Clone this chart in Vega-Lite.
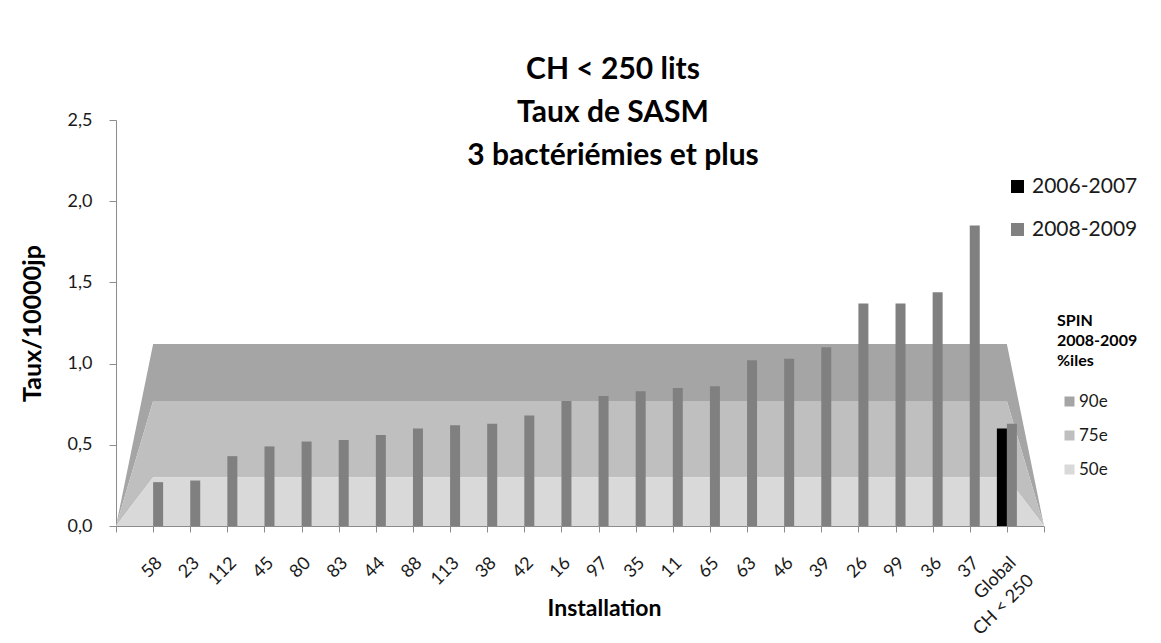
{
  "$schema": "https://vega.github.io/schema/vega-lite/v6.json",
  "autosize": {"type": "none"},
  "width": 928,
  "height": 406,
  "padding": {"left": 116, "top": 120, "right": 117, "bottom": 117},
  "background": "white",
  "config": {
    "font": "Lato",
    "view": {"stroke": null},
    "axis": {"grid": false, "domainColor": "#8c8c8c", "tickColor": "#8c8c8c", "labelColor": "#1a1a1a", "titleColor": "#000000", "labelFont": "Lato", "titleFont": "Lato"},
    "legend": {"labelFont": "Lato", "titleFont": "Lato", "labelColor": "#1a1a1a", "titleColor": "#000000"}
  },
  "title": {
    "text": ["CH < 250 lits", "Taux de SASM", "3 bactériémies et plus"],
    "font": "Lato",
    "fontSize": 30,
    "fontWeight": "bold",
    "lineHeight": 43,
    "color": "#000000",
    "anchor": "middle",
    "frame": "group",
    "dx": 33,
    "offset": -60
  },
  "datasets": {
    "bands": [
      {"cat": "s", "p50": 0, "p75": 0, "p90": 0},
      {"cat": "58", "p50": 0.3, "p75": 0.77, "p90": 1.12},
      {"cat": "23", "p50": 0.3, "p75": 0.77, "p90": 1.12},
      {"cat": "112", "p50": 0.3, "p75": 0.77, "p90": 1.12},
      {"cat": "45", "p50": 0.3, "p75": 0.77, "p90": 1.12},
      {"cat": "80", "p50": 0.3, "p75": 0.77, "p90": 1.12},
      {"cat": "83", "p50": 0.3, "p75": 0.77, "p90": 1.12},
      {"cat": "44", "p50": 0.3, "p75": 0.77, "p90": 1.12},
      {"cat": "88", "p50": 0.3, "p75": 0.77, "p90": 1.12},
      {"cat": "113", "p50": 0.3, "p75": 0.77, "p90": 1.12},
      {"cat": "38", "p50": 0.3, "p75": 0.77, "p90": 1.12},
      {"cat": "42", "p50": 0.3, "p75": 0.77, "p90": 1.12},
      {"cat": "16", "p50": 0.3, "p75": 0.77, "p90": 1.12},
      {"cat": "97", "p50": 0.3, "p75": 0.77, "p90": 1.12},
      {"cat": "35", "p50": 0.3, "p75": 0.77, "p90": 1.12},
      {"cat": "11", "p50": 0.3, "p75": 0.77, "p90": 1.12},
      {"cat": "65", "p50": 0.3, "p75": 0.77, "p90": 1.12},
      {"cat": "63", "p50": 0.3, "p75": 0.77, "p90": 1.12},
      {"cat": "46", "p50": 0.3, "p75": 0.77, "p90": 1.12},
      {"cat": "39", "p50": 0.3, "p75": 0.77, "p90": 1.12},
      {"cat": "26", "p50": 0.3, "p75": 0.77, "p90": 1.12},
      {"cat": "99", "p50": 0.3, "p75": 0.77, "p90": 1.12},
      {"cat": "36", "p50": 0.3, "p75": 0.77, "p90": 1.12},
      {"cat": "37", "p50": 0.3, "p75": 0.77, "p90": 1.12},
      {"cat": "Global", "p50": 0.3, "p75": 0.77, "p90": 1.12},
      {"cat": "e", "p50": 0, "p75": 0, "p90": 0}
    ],
    "bars": [
      {"cat": "58", "period": "2008-2009", "value": 0.27},
      {"cat": "23", "period": "2008-2009", "value": 0.28},
      {"cat": "112", "period": "2008-2009", "value": 0.43},
      {"cat": "45", "period": "2008-2009", "value": 0.49},
      {"cat": "80", "period": "2008-2009", "value": 0.52},
      {"cat": "83", "period": "2008-2009", "value": 0.53},
      {"cat": "44", "period": "2008-2009", "value": 0.56},
      {"cat": "88", "period": "2008-2009", "value": 0.6},
      {"cat": "113", "period": "2008-2009", "value": 0.62},
      {"cat": "38", "period": "2008-2009", "value": 0.63},
      {"cat": "42", "period": "2008-2009", "value": 0.68},
      {"cat": "16", "period": "2008-2009", "value": 0.77},
      {"cat": "97", "period": "2008-2009", "value": 0.8},
      {"cat": "35", "period": "2008-2009", "value": 0.83},
      {"cat": "11", "period": "2008-2009", "value": 0.85},
      {"cat": "65", "period": "2008-2009", "value": 0.86},
      {"cat": "63", "period": "2008-2009", "value": 1.02},
      {"cat": "46", "period": "2008-2009", "value": 1.03},
      {"cat": "39", "period": "2008-2009", "value": 1.1},
      {"cat": "26", "period": "2008-2009", "value": 1.37},
      {"cat": "99", "period": "2008-2009", "value": 1.37},
      {"cat": "36", "period": "2008-2009", "value": 1.44},
      {"cat": "37", "period": "2008-2009", "value": 1.85},
      {"cat": "Global", "period": "2006-2007", "value": 0.6},
      {"cat": "Global", "period": "2008-2009", "value": 0.63}
    ]
  },
  "encoding": {
    "x": {
      "field": "cat",
      "type": "nominal",
      "scale": {"type": "point", "padding": 0, "domain": ["s", "58", "23", "112", "45", "80", "83", "44", "88", "113", "38", "42", "16", "97", "35", "11", "65", "63", "46", "39", "26", "99", "36", "37", "Global", "e"]},
      "axis": {
        "title": "Installation",
        "titleFontSize": 23,
        "titleFontWeight": "bold",
        "titleX": 488,
        "titleY": 89,
        "titleBaseline": "alphabetic",
        "labelAngle": -45,
        "labelAlign": "right",
        "labelBaseline": "middle",
        "labelFontSize": 18,
        "labelPadding": 28,
        "labelOffset": 6,
        "labelLineHeight": 25,
        "tickSize": 6,
        "labelExpr": "datum.value == 's' || datum.value == 'e' ? '' : (datum.value == 'Global' ? ['Global', 'CH < 250'] : datum.value)"
      }
    }
  },
  "layer": [
    {
      "data": {"name": "bands"},
      "mark": {"type": "area", "opacity": 1},
      "encoding": {
        "y": {"field": "p90", "type": "quantitative", "scale": {"domain": [0, 2.5], "nice": false},
          "axis": {"title": "Taux/10000jp", "titleFontSize": 25, "titleFontWeight": "bold", "titlePadding": 22, "values": [0, 0.5, 1, 1.5, 2, 2.5], "labelFontSize": 18, "labelPadding": 17, "tickSize": 7, "labelExpr": "replace(format(datum.value, '.1f'), '.', ',')"}},
        "y2": {"field": "p75"},
        "fill": {"datum": "90e", "type": "nominal", "scale": {"domain": ["90e", "75e", "50e"], "range": ["#a5a5a5", "#bfbfbf", "#d9d9d9"]},
          "legend": {"title": ["SPIN", "2008-2009", "%iles"], "orient": "none", "legendX": 941, "legendY": 193, "titleFontSize": 16, "titleFontWeight": "bold", "titleLineHeight": 20, "titlePadding": 24, "labelFontSize": 17, "symbolType": "square", "symbolSize": 100, "symbolStrokeWidth": 0, "symbolOffset": 4, "rowPadding": 16, "labelOffset": 1}}
      }
    },
    {
      "data": {"name": "bands"},
      "mark": {"type": "area", "opacity": 1},
      "encoding": {
        "y": {"field": "p75", "type": "quantitative", "scale": {"domain": [0, 2.5], "nice": false}},
        "y2": {"field": "p50"},
        "fill": {"datum": "75e", "type": "nominal"}
      }
    },
    {
      "data": {"name": "bands"},
      "mark": {"type": "area", "opacity": 1},
      "encoding": {
        "y": {"field": "p50", "type": "quantitative", "scale": {"domain": [0, 2.5], "nice": false}},
        "y2": {"datum": 0},
        "fill": {"datum": "50e", "type": "nominal"}
      }
    },
    {
      "data": {"name": "bars"},
      "transform": [{"filter": "datum.period == '2008-2009'"}],
      "mark": {"type": "bar", "width": 10, "xOffset": 5},
      "encoding": {
        "y": {"field": "value", "type": "quantitative", "scale": {"domain": [0, 2.5], "nice": false}},
        "color": {"field": "period", "type": "nominal", "scale": {"domain": ["2006-2007", "2008-2009"], "range": ["#000000", "#808080"]},
          "legend": {"title": null, "orient": "none", "legendX": 891, "legendY": 56, "labelFontSize": 21, "symbolType": "square", "symbolSize": 169, "symbolStrokeWidth": 0, "rowPadding": 21, "labelOffset": 4}}
      }
    },
    {
      "data": {"name": "bars"},
      "transform": [{"filter": "datum.period == '2006-2007'"}],
      "mark": {"type": "bar", "width": 10, "xOffset": -5},
      "encoding": {
        "y": {"field": "value", "type": "quantitative", "scale": {"domain": [0, 2.5], "nice": false}},
        "color": {"field": "period", "type": "nominal"}
      }
    }
  ]
}
